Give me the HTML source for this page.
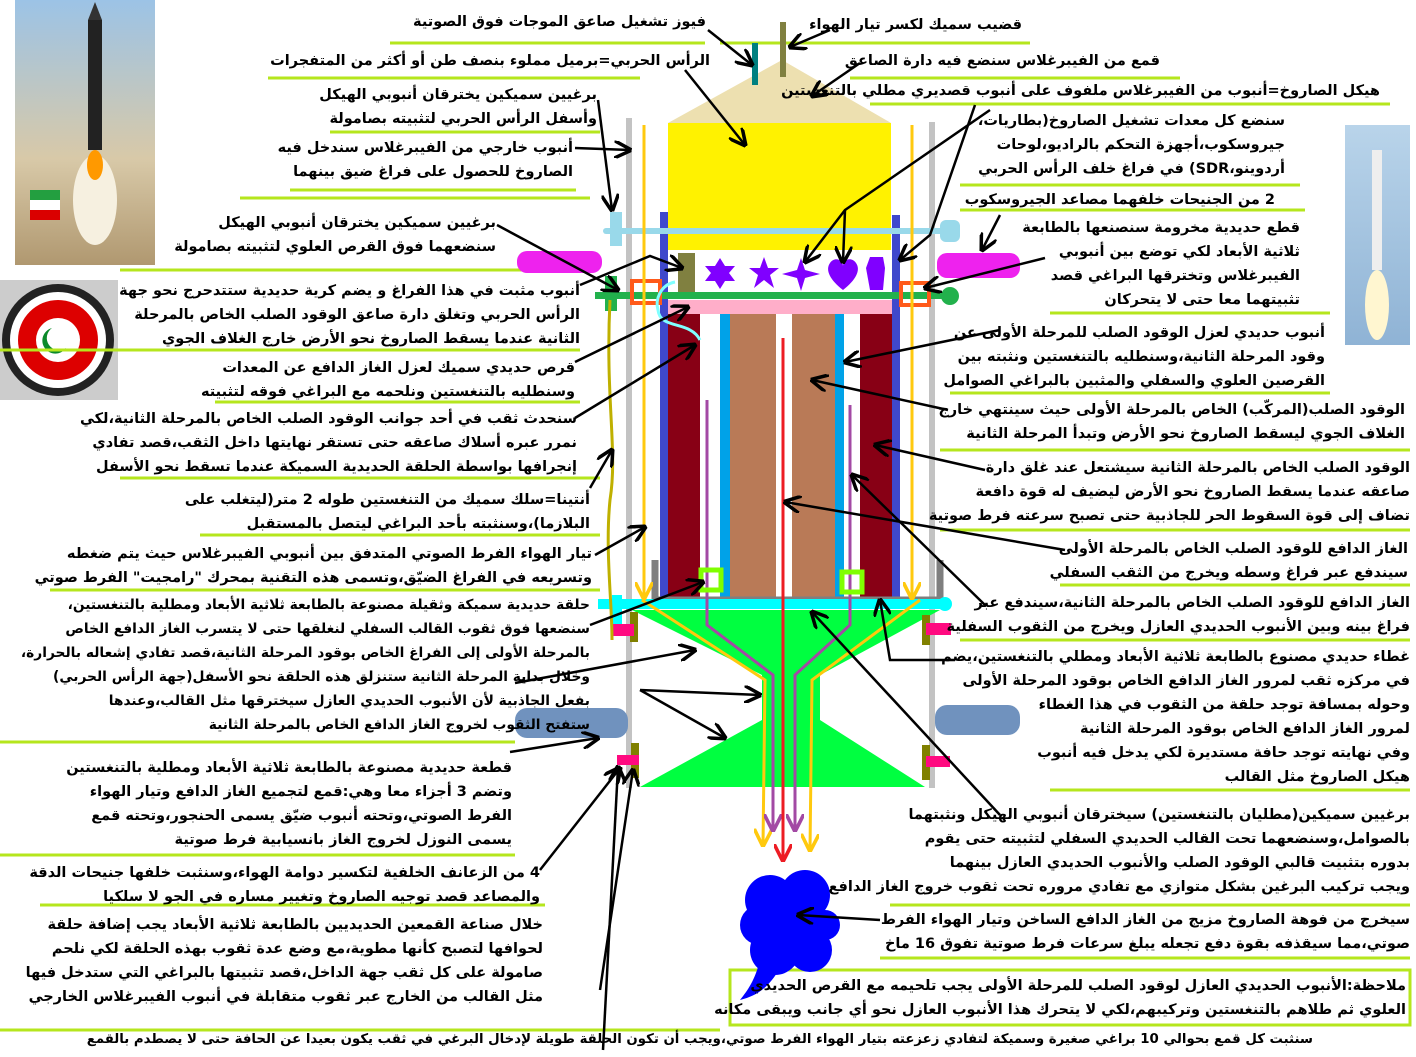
<!DOCTYPE html>
<html><head><meta charset="utf-8"><style>
body{margin:0;width:1416px;height:1057px;background:#fff;position:relative;overflow:hidden}
.t{position:absolute;direction:rtl;white-space:nowrap;font:bold 14.5px "DejaVu Sans","Liberation Sans",sans-serif;line-height:24px;color:#000;text-align:right}
svg{position:absolute;left:0;top:0}
</style></head><body>
<svg width="1416" height="1057" viewBox="0 0 1416 1057">
<defs>
<marker id="a" viewBox="0 0 10 10" refX="9" refY="5" markerWidth="7" markerHeight="7" orient="auto"><path d="M0,0 L10,5 L0,10" fill="none" stroke="#000" stroke-width="2"/></marker>
<marker id="y" viewBox="0 0 10 10" refX="9" refY="5" markerWidth="6" markerHeight="6" orient="auto"><path d="M0,0 L10,5 L0,10" fill="none" stroke="#ffc90e" stroke-width="2"/></marker>
<marker id="p" viewBox="0 0 10 10" refX="9" refY="5" markerWidth="6" markerHeight="6" orient="auto"><path d="M0,0 L10,5 L0,10" fill="none" stroke="#a349a4" stroke-width="2"/></marker>
<marker id="r" viewBox="0 0 10 10" refX="9" refY="5" markerWidth="6" markerHeight="6" orient="auto"><path d="M0,0 L10,5 L0,10" fill="none" stroke="#ed1c24" stroke-width="2"/></marker>
<linearGradient id="sky" x1="0" y1="0" x2="0" y2="1"><stop offset="0" stop-color="#9cc3e6"/><stop offset="0.6" stop-color="#d8c9a8"/><stop offset="1" stop-color="#b09870"/></linearGradient>
<linearGradient id="sky2" x1="0" y1="0" x2="0" y2="1"><stop offset="0" stop-color="#b9d4ea"/><stop offset="1" stop-color="#8fb3d5"/></linearGradient>
</defs>
<rect x="15" y="0" width="140" height="265" fill="url(#sky)"/>
<rect x="88" y="20" width="14" height="130" fill="#222"/><polygon points="88,20 95,2 102,20" fill="#333"/>
<ellipse cx="95" cy="200" rx="22" ry="45" fill="#f6f0e0"/><ellipse cx="95" cy="165" rx="8" ry="15" fill="#f90"/>
<rect x="30" y="190" width="30" height="10" fill="#239f40"/><rect x="30" y="200" width="30" height="10" fill="#fff"/><rect x="30" y="210" width="30" height="10" fill="#da0000"/>
<rect x="1345" y="125" width="65" height="220" fill="url(#sky2)"/>
<rect x="1372" y="150" width="10" height="120" fill="#eee"/><ellipse cx="1377" cy="305" rx="12" ry="35" fill="#fff6d0"/>
<rect x="0" y="280" width="118" height="120" fill="#ccc"/>
<circle cx="58" cy="340" r="56" fill="#222"/><circle cx="58" cy="340" r="48" fill="#fff"/><circle cx="58" cy="340" r="40" fill="#d00"/><circle cx="58" cy="340" r="22" fill="#fff"/><path d="M52,328 a13,13 0 1,0 14,20 a10,10 0 1,1 -14,-20z" fill="#0a8a2a"/>
<g stroke="#b5e61d" stroke-width="3">
<line x1="390" y1="43" x2="705" y2="43"/><line x1="268" y1="78" x2="640" y2="78"/><line x1="330" y1="132" x2="600" y2="132"/><line x1="290" y1="190" x2="576" y2="190"/><line x1="240" y1="198" x2="590" y2="198"/><line x1="120" y1="270" x2="590" y2="270"/><line x1="0" y1="350" x2="580" y2="350"/><line x1="215" y1="402" x2="580" y2="402"/><line x1="120" y1="478" x2="600" y2="478"/><line x1="200" y1="535" x2="600" y2="535"/><line x1="50" y1="590" x2="600" y2="590"/><line x1="0" y1="742" x2="515" y2="742"/><line x1="0" y1="855" x2="515" y2="855"/><line x1="40" y1="905" x2="545" y2="905"/><line x1="720" y1="43" x2="1030" y2="43"/><line x1="850" y1="78" x2="1180" y2="78"/><line x1="870" y1="104" x2="1390" y2="104"/><line x1="960" y1="185" x2="1300" y2="185"/><line x1="960" y1="210" x2="1305" y2="210"/><line x1="1050" y1="313" x2="1330" y2="313"/><line x1="950" y1="393" x2="1330" y2="393"/><line x1="940" y1="450" x2="1410" y2="450"/><line x1="940" y1="530" x2="1410" y2="530"/><line x1="1060" y1="585" x2="1410" y2="585"/><line x1="960" y1="640" x2="1410" y2="640"/><line x1="1050" y1="790" x2="1410" y2="790"/><line x1="890" y1="905" x2="1410" y2="905"/><line x1="880" y1="958" x2="1410" y2="958"/><line x1="0" y1="1030" x2="720" y2="1030"/>
</g>
<rect x="730" y="970" width="680" height="55" fill="none" stroke="#b5e61d" stroke-width="3"/>
<polygon points="668,123 782,60 891,123" fill="#ede0b0"/>
<rect x="668" y="123" width="223" height="127" fill="#fff200"/>
<rect x="752" y="43" width="6" height="42" fill="#008080"/><rect x="780" y="22" width="6" height="55" fill="#808040"/>
<rect x="626" y="118" width="6" height="670" fill="#c3c3c3"/><rect x="929" y="122" width="6" height="666" fill="#c3c3c3"/>
<rect x="660" y="212" width="8" height="385" fill="#3f48cc"/><rect x="892" y="215" width="8" height="382" fill="#3f48cc"/>
<rect x="668" y="313" width="32" height="285" fill="#880015"/><rect x="860" y="313" width="32" height="285" fill="#880015"/>
<rect x="720" y="313" width="10" height="285" fill="#00a2e8"/><rect x="835" y="313" width="9" height="285" fill="#00a2e8"/>
<rect x="730" y="313" width="46" height="285" fill="#b97a57"/><rect x="792" y="313" width="43" height="285" fill="#b97a57"/>
<rect x="668" y="300" width="224" height="14" fill="#ffaec9"/>
<rect x="603" y="228" width="345" height="6" rx="3" fill="#99d9ea"/><rect x="610" y="212" width="12" height="34" fill="#99d9ea"/><rect x="940" y="220" width="20" height="22" rx="6" fill="#99d9ea"/>
<rect x="517" y="251" width="85" height="22" rx="10" fill="#ee22ee"/><rect x="937" y="253" width="83" height="25" rx="10" fill="#ee22ee"/>
<rect x="678" y="253" width="17" height="40" fill="#808040"/>
<rect x="595" y="292" width="355" height="7" fill="#22b14c"/><circle cx="950" cy="296" r="9" fill="#22b14c"/><rect x="605" y="276" width="12" height="35" fill="#22b14c"/>
<rect x="632" y="281" width="28" height="22" fill="none" stroke="#ff5a1a" stroke-width="4"/><rect x="901" y="283" width="28" height="22" fill="none" stroke="#ff5a1a" stroke-width="4"/>
<g fill="#8000ff">
<polygon points="720,258 725,266 735,266 729,273 735,281 725,281 720,289 715,281 705,281 711,273 705,266 715,266"/>
<polygon points="764,257 768,268 779,268 770,275 774,288 764,280 754,288 758,275 749,268 760,268"/>
<polygon points="801,258 805,270 820,274 805,278 801,291 797,278 782,274 797,270"/>
<path d="M843,290 C830,280 825,270 830,263 C835,256 843,260 843,266 C843,260 851,256 856,263 C861,270 856,280 843,290Z"/>
<polygon points="870,257 883,257 885,268 883,290 870,290 866,268"/>
</g>
<path d="M675,282 C660,285 655,300 658,310 C660,330 690,320 700,340" fill="none" stroke="#80ffff" stroke-width="3"/>
<path d="M655,560 L655,600 L940,600 L940,560" fill="none" stroke="#7f7f7f" stroke-width="7"/>
<rect x="598" y="599" width="350" height="10" fill="#00ffff"/><circle cx="945" cy="604" r="7" fill="#00ffff"/><rect x="612" y="595" width="10" height="30" fill="#00ffff"/>
<polygon points="632,610 940,610 820,675 820,720 925,787 640,787 762,720 762,675" fill="#00ff40"/>
<rect x="515" y="708" width="113" height="30" rx="12" fill="#7092be"/><rect x="935" y="705" width="85" height="30" rx="12" fill="#7092be"/>
<g fill="#808000"><rect x="630" y="612" width="8" height="30"/><rect x="631" y="743" width="8" height="35"/><rect x="922" y="615" width="8" height="30"/><rect x="922" y="745" width="8" height="35"/></g>
<g fill="#ff0a80"><rect x="612" y="624" width="22" height="12"/><rect x="617" y="755" width="22" height="10"/><rect x="926" y="623" width="25" height="12"/><rect x="926" y="756" width="24" height="11"/></g>
<g stroke="#ffc90e" stroke-width="3" fill="none">
<line x1="644" y1="125" x2="644" y2="598" marker-end="url(#y)"/><line x1="912" y1="125" x2="912" y2="598" marker-end="url(#y)"/>
<polyline points="642,600 765,680 763,845" marker-end="url(#y)"/><polyline points="920,600 812,680 810,850" marker-end="url(#y)"/>
</g>
<path d="M610,300 C605,400 618,450 610,500 C605,550 612,600 612,640" fill="none" stroke="#bfb000" stroke-width="3"/>
<g stroke="#a349a4" stroke-width="3" fill="none">
<polyline points="707,400 707,625 773,675 773,830" marker-end="url(#p)"/><polyline points="850,405 850,625 795,675 795,830" marker-end="url(#p)"/>
</g>
<line x1="783" y1="338" x2="783" y2="860" stroke="#ed1c24" stroke-width="3" marker-end="url(#r)"/>
<rect x="701" y="570" width="20" height="20" fill="none" stroke="#80ff00" stroke-width="5"/><rect x="842" y="572" width="20" height="20" fill="none" stroke="#80ff00" stroke-width="5"/>
<g fill="#0000ff">
<circle cx="770" cy="900" r="25"/><circle cx="805" cy="895" r="25"/><circle cx="825" cy="925" r="15"/><circle cx="810" cy="950" r="22"/><circle cx="775" cy="950" r="25"/><circle cx="760" cy="925" r="20"/><circle cx="790" cy="925" r="25"/>
<path d="M760,960 C755,980 748,990 740,1000 C760,995 770,985 780,968Z"/>
</g>
<g stroke="#000" stroke-width="2.5" fill="none" marker-end="url(#a)">
<line x1="708" y1="30" x2="752" y2="65"/><line x1="830" y1="30" x2="790" y2="47"/><line x1="685" y1="70" x2="745" y2="145"/><line x1="860" y1="63" x2="812" y2="96"/>
<line x1="575" y1="148" x2="630" y2="150"/><line x1="598" y1="100" x2="612" y2="210"/><line x1="497" y1="225" x2="618" y2="290"/>
<polyline points="580,285 650,256 682,268"/><line x1="575" y1="362" x2="688" y2="307"/><line x1="575" y1="418" x2="695" y2="345"/>
<line x1="590" y1="488" x2="612" y2="450"/><line x1="595" y1="555" x2="645" y2="527"/><line x1="590" y1="625" x2="703" y2="582"/>
<line x1="515" y1="683" x2="695" y2="650"/><line x1="640" y1="690" x2="760" y2="695"/><line x1="640" y1="690" x2="725" y2="738"/>
<line x1="510" y1="752" x2="598" y2="738"/><line x1="540" y1="870" x2="620" y2="768"/><line x1="603" y1="1050" x2="618" y2="767"/><line x1="600" y1="990" x2="633" y2="770"/>
<polyline points="990,110 845,210 805,262"/><line x1="845" y1="210" x2="843" y2="262"/><polyline points="975,105 930,235 900,260"/>
<line x1="1000" y1="215" x2="982" y2="250"/><line x1="1045" y1="258" x2="925" y2="288"/><line x1="1000" y1="330" x2="845" y2="362"/>
<line x1="948" y1="410" x2="812" y2="380"/><line x1="985" y1="470" x2="875" y2="445"/><line x1="1065" y1="550" x2="785" y2="502"/>
<line x1="985" y1="605" x2="852" y2="475"/><polyline points="955,660 890,660 880,600"/>
<line x1="1000" y1="815" x2="812" y2="612"/><line x1="880" y1="920" x2="798" y2="915"/>
</g>
</svg>
<div class="t" style="right:710px;top:10px">فيوز تشغيل صاعق الموجات فوق الصوتية</div>
<div class="t" style="right:706px;top:49px">الرأس الحربي=برميل مملوء بنصف طن أو أكثر من المتفجرات</div>
<div class="t" style="right:819px;top:83px">برغيين سميكين يخترقان أنبوبي الهيكل<br>وأسفل الرأس الحربي لتثبيته بصامولة</div>
<div class="t" style="right:843px;top:136px">أنبوب خارجي من الفيبرغلاس سندخل فيه<br>الصاروخ للحصول على فراغ ضيق بينهما</div>
<div class="t" style="right:920px;top:211px">برغيين سميكين يخترقان أنبوبي الهيكل<br>سنضعهما فوق القرص العلوي لتثبيته بصامولة</div>
<div class="t" style="right:836px;top:279px">أنبوب مثبت في هذا الفراغ و يضم كرية حديدية ستتدحرج نحو جهة<br>الرأس الحربي وتغلق دارة صاعق الوقود الصلب الخاص بالمرحلة<br>الثانية عندما يسقط الصاروخ نحو الأرض خارج الغلاف الجوي</div>
<div class="t" style="right:841px;top:356px">قرص حديدي سميك لعزل الغاز الدافع عن المعدات<br>وسنطليه بالتنغستين ونلحمه مع البراغي فوقه لتثبيته</div>
<div class="t" style="right:839px;top:407px">سنحدث ثقب في أحد جوانب الوقود الصلب الخاص بالمرحلة الثانية،لكي<br>نمرر عبره أسلاك صاعقه حتى تستقر نهايتها داخل الثقب،قصد تفادي<br>إنجرافها بواسطة الحلقة الحديدية السميكة عندما تسقط نحو الأسفل</div>
<div class="t" style="right:826px;top:488px">أنتينا=سلك سميك من التنغستين طوله 2 متر(ليتغلب على<br>البلازما)،وسنثبته بأحد البراغي ليتصل بالمستقبل</div>
<div class="t" style="right:824px;top:542px">تيار الهواء الفرط الصوتي المتدفق بين أنبوبي الفيبرغلاس حيث يتم ضغطه<br>وتسريعه في الفراغ الضيّق،وتسمى هذه التقنية بمحرك "رامجيت" الفرط صوتي</div>
<div class="t" style="right:826px;top:593px;font-size:13.8px">حلقة حديدية سميكة وثقيلة مصنوعة بالطابعة ثلاثية الأبعاد ومطلية بالتنغستين،<br>سنضعها فوق ثقوب القالب السفلي لنغلقها حتى لا يتسرب الغاز الدافع الخاص<br>بالمرحلة الأولى إلى الفراغ الخاص بوقود المرحلة الثانية،قصد تفادي إشعاله بالحرارة،<br>وخلال بداية المرحلة الثانية ستنزلق هذه الحلقة نحو الأسفل(جهة الرأس الحربي)<br>بفعل الجاذبية لأن الأنبوب الحديدي العازل سيخترقها مثل القالب،وعندها<br>ستفتح الثقوب لخروج الغاز الدافع الخاص بالمرحلة الثانية</div>
<div class="t" style="right:904px;top:756px">قطعة حديدية مصنوعة بالطابعة ثلاثية الأبعاد ومطلية بالتنغستين<br>وتضم 3 أجزاء معا وهي:قمع لتجميع الغاز الدافع وتيار الهواء<br>الفرط الصوتي،وتحته أنبوب ضيّق يسمى الحنجور،وتحته قمع<br>يسمى النوزل لخروج الغاز بانسيابية فرط صوتية</div>
<div class="t" style="right:876px;top:861px">4 من الزعانف الخلفية لتكسير دوامة الهواء،وسنثبت خلفها جنيحات الدقة<br>والمصاعد قصد توجيه الصاروخ وتغيير مساره في الجو لا سلكيا</div>
<div class="t" style="right:873px;top:913px">خلال صناعة القمعين الحديديين بالطابعة ثلاثية الأبعاد يجب إضافة حلقة<br>لحوافها لتصبح كأنها مطوية،مع وضع عدة ثقوب بهذه الحلقة لكي نلحم<br>صامولة على كل ثقب جهة الداخل،قصد تثبيتها بالبراغي التي ستدخل فيها<br>مثل القالب من الخارج عبر ثقوب متقابلة في أنبوب الفيبرغلاس الخارجي</div>
<div class="t" style="right:103px;top:1028px;font-size:13.3px">سنثبت كل قمع بحوالي 10 براغي صغيرة وسميكة لتفادي زعزعته بتيار الهواء الفرط صوتي،ويجب أن تكون الحلقة طويلة لإدخال البرغي في ثقب يكون بعيدا عن الحافة حتى لا يصطدم بالقمع</div>
<div class="t" style="right:394px;top:13px">قضيب سميك لكسر تيار الهواء</div>
<div class="t" style="right:256px;top:49px">قمع من الفيبرغلاس سنضع فيه دارة الصاعق</div>
<div class="t" style="right:36px;top:79px">هيكل الصاروخ=أنبوب من الفيبرغلاس ملفوف على أنبوب قصديري مطلي بالتنغستين</div>
<div class="t" style="right:131px;top:109px">سنضع كل معدات تشغيل الصاروخ(بطاريات،<br>جيروسكوب،أجهزة التحكم بالراديو،لوحات<br>أردوينو،SDR) في فراغ خلف الرأس الحربي</div>
<div class="t" style="right:141px;top:188px">2 من الجنيحات خلفهما مصاعد الجيروسكوب</div>
<div class="t" style="right:116px;top:216px">قطع حديدية مخرومة سنصنعها بالطابعة<br>ثلاثية الأبعاد لكي توضع بين أنبوبي<br>الفيبرغلاس وتخترقها البراغي قصد<br>تثبيتهما معا حتى لا يتحركان</div>
<div class="t" style="right:91px;top:321px">أنبوب حديدي لعزل الوقود الصلب للمرحلة الأولى عن<br>وقود المرحلة الثانية،وسنطليه بالتنغستين ونثبته بين<br>القرصين العلوي والسفلي والمثبين بالبراغي الصوامل</div>
<div class="t" style="right:11px;top:398px">الوقود الصلب(المركّب) الخاص بالمرحلة الأولى حيث سينتهي خارج<br>الغلاف الجوي ليسقط الصاروخ نحو الأرض وتبدأ المرحلة الثانية</div>
<div class="t" style="right:6px;top:456px">الوقود الصلب الخاص بالمرحلة الثانية سيشتعل عند غلق دارة<br>صاعقه عندما يسقط الصاروخ نحو الأرض ليضيف له قوة دافعة<br>تضاف إلى قوة السقوط الحر للجاذبية حتى تصبح سرعته فرط صوتية</div>
<div class="t" style="right:8px;top:537px">الغاز الدافع للوقود الصلب الخاص بالمرحلة الأولى<br>سيندفع عبر فراغ وسطه ويخرج من الثقب السفلي</div>
<div class="t" style="right:6px;top:591px">الغاز الدافع للوقود الصلب الخاص بالمرحلة الثانية،سيندفع عبر<br>فراغ بينه وبين الأنبوب الحديدي العازل ويخرج من الثقوب السفلية</div>
<div class="t" style="right:6px;top:645px">غطاء حديدي مصنوع بالطابعة ثلاثية الأبعاد ومطلي بالتنغستين،يضم<br>في مركزه ثقب لمرور الغاز الدافع الخاص بوقود المرحلة الأولى<br>وحوله بمسافة توجد حلقة من الثقوب في هذا الغطاء<br>لمرور الغاز الدافع الخاص بوقود المرحلة الثانية<br>وفي نهايته توجد حافة مستديرة لكي يدخل فيه أنبوب<br>هيكل الصاروخ مثل القالب</div>
<div class="t" style="right:6px;top:803px">برغيين سميكين(مطليان بالتنغستين) سيخترقان أنبوبي الهيكل ونثبتهما<br>بالصوامل،وسنضعهما تحت القالب الحديدي السفلي لتثبيته حتى يقوم<br>بدوره بتثبيت قالبي الوقود الصلب والأنبوب الحديدي العازل بينهما<br>ويجب تركيب البرغين بشكل متوازي مع تفادي مروره تحت ثقوب خروج الغاز الدافع</div>
<div class="t" style="right:6px;top:908px">سيخرج من فوهة الصاروخ مزيج من الغاز الدافع الساخن وتيار الهواء الفرط<br>صوتي،مما سيقذفه بقوة دفع تجعله يبلغ سرعات فرط صوتية تفوق 16 ماخ</div>
<div class="t" style="right:10px;top:974px">ملاحظة:الأنبوب الحديدي العازل لوقود الصلب للمرحلة الأولى يجب تلحيمه مع القرص الحديدي<br>العلوي ثم طلاهم بالتنغستين وتركيبهم،لكي لا يتحرك هذا الأنبوب العازل نحو أي جانب ويبقى مكانه</div>
</body></html>
